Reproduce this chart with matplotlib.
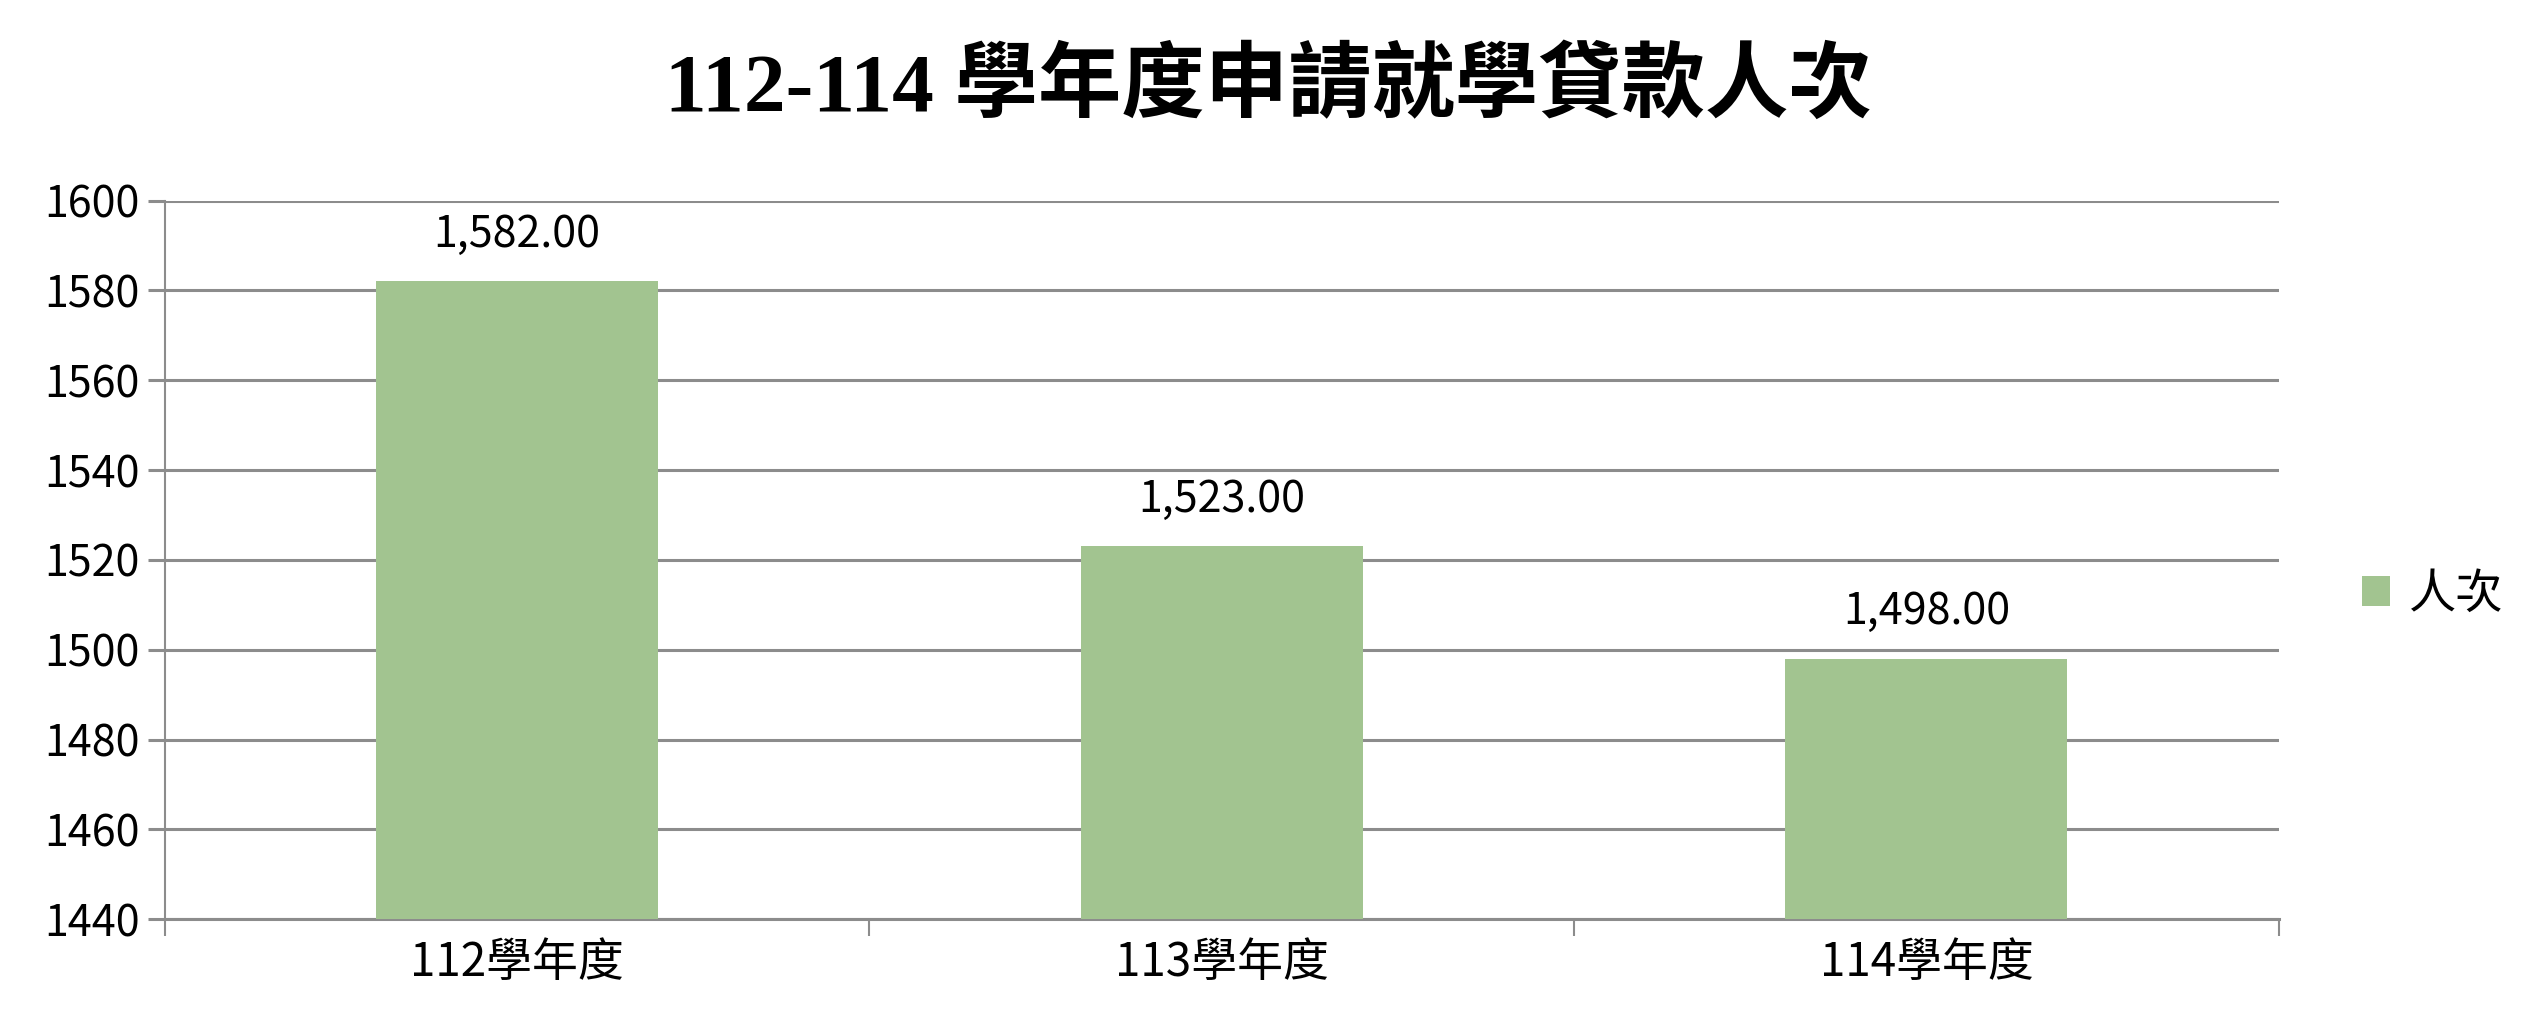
import numpy as np
import matplotlib.pyplot as plt
from matplotlib.ticker import FixedLocator

categories = ['112學年度', '113學年度', '114學年度']
counts = [1582, 1523, 1498]
series_name = '人次'
title = '112-114 學年度申請就學貸款人次'

bar_color = '#a2c490'
grid_color = '#8c8c8c'
sans = ['Noto Sans CJK TC', 'DejaVu Sans']

plt.rcParams['font.family'] = sans

fig = plt.figure(figsize=(25.21, 10.34), dpi=100)
ax = fig.add_axes([0.0654, 0.111, 0.8385, 0.695])

x = np.arange(len(categories))
bars = ax.bar(x, counts, width=0.4, color=bar_color, label=series_name, zorder=3)

for xi, v in zip(x, counts):
    ax.annotate(f'{v:,.2f}', (xi, v), xytext=(0, 18), textcoords='offset points',
                ha='center', va='bottom', fontsize=31)

ax.set_xlim(-0.5, len(categories) - 0.5)
ax.set_ylim(1440, 1600)
ax.set_yticks(np.arange(1440, 1601, 20))
ax.yaxis.grid(True, color=grid_color, linewidth=2.2, zorder=0)
ax.set_axisbelow(True)

ax.set_xticks(x)
ax.set_xticklabels(categories, fontsize=33)
ax.xaxis.set_minor_locator(FixedLocator(np.arange(-0.5, len(categories), 1.0)))
ax.tick_params(axis='x', which='major', length=0, pad=14)
ax.tick_params(axis='x', which='minor', length=12, width=1.5, color=grid_color)
ax.tick_params(axis='y', labelsize=31, length=12, width=2.2, color=grid_color, pad=6)

for side in ['top', 'right']:
    ax.spines[side].set_visible(False)
ax.spines['left'].set_color(grid_color)
ax.spines['left'].set_linewidth(1.5)
ax.spines['bottom'].set_color(grid_color)
ax.spines['bottom'].set_linewidth(2.2)

fig.text(0.503, 0.914, title, ha='center', va='center', fontsize=60,
         fontweight='bold', family=['Liberation Serif', 'Noto Sans CJK TC'])

fig.legend(handles=[bars], labels=[series_name], loc='center left',
           bbox_to_anchor=(0.92, 0.425), frameon=False,
           handlelength=0.6, handleheight=0.6, handletextpad=0.4,
           prop={'family': ['Noto Sans CJK TC'], 'size': 34})

fig.savefig('out.png', dpi=100)
